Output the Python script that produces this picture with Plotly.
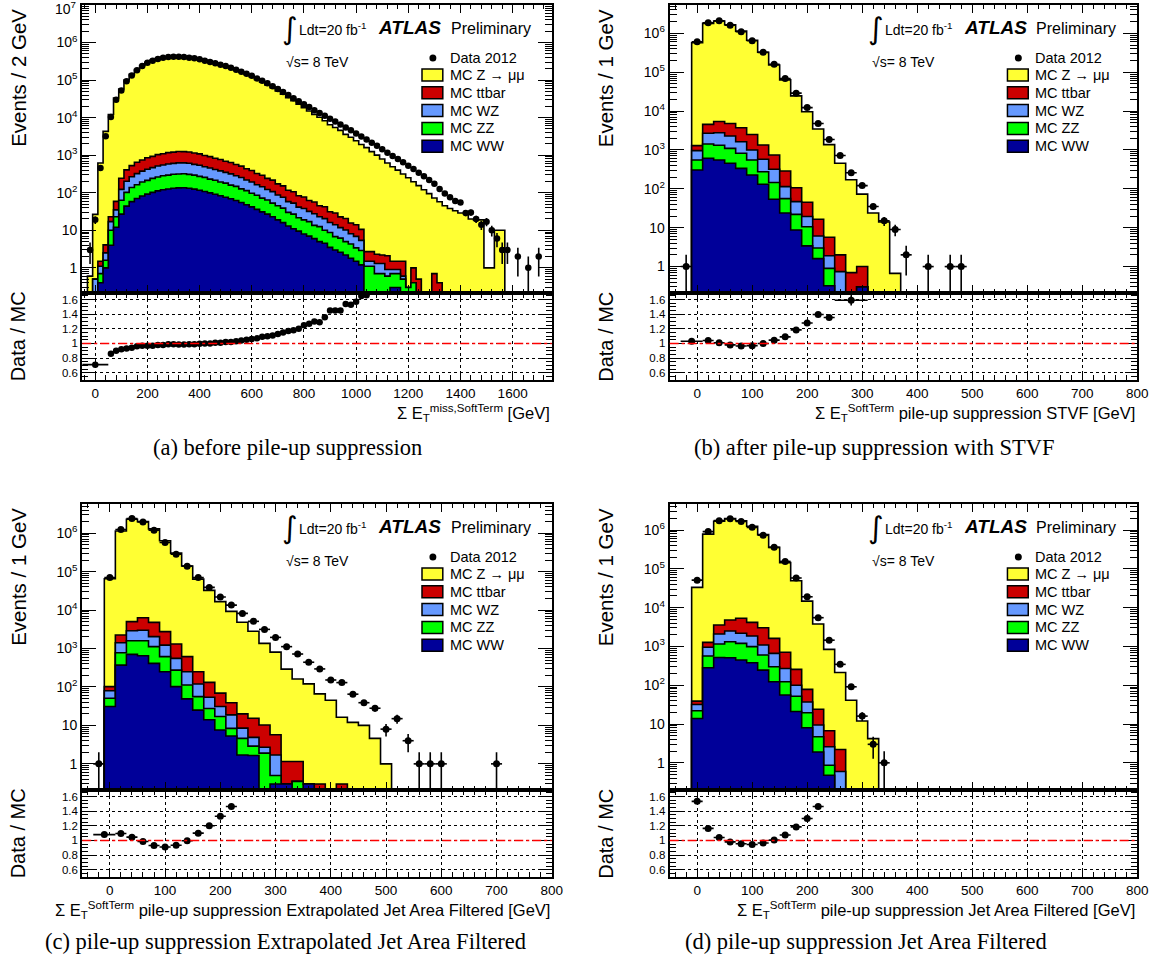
import numpy as np
import plotly.graph_objects as go

W, H = 1171, 962
BIN = 20.0
SANS = "Liberation Sans, Arial, Helvetica, sans-serif"
SERIF = "Liberation Serif, Times New Roman, serif"

COL_Z = "#ffff33"
COL_TT = "#cc0000"
COL_WZ = "#6699ff"
COL_ZZ = "#00ff00"
COL_WW = "#000099"

# ---------------- (a) before pile-up suppression ----------------
a_data_first = -20
a_data = [3, 19, 455, 3200, 10400, 30000, 53000, 93000, 133000, 183000,
          237000, 290000, 330000, 365000, 395000, 410000, 420000, 420000, 410000, 395000,
          380000, 360000, 330000, 305000, 280000, 255000, 237000, 213000, 190000, 168000,
          148000, 130000, 111000, 96000, 82000, 69000, 57500, 47900, 39800, 33100,
          27500, 22900, 19100, 15800, 13200, 11200, 9300, 7900, 6600, 5500,
          4600, 3800, 3160, 2630, 2140, 1780, 1450, 1170, 955, 795,
          645, 525, 427, 339, 275, 219, 174, 126, 95, 76,
          60, 55, 29, 30, 20, 14, 17, 10, 6, 3,
          3, 0, 2, 0, 1, 0, 2]
a_z_first = -20
a_z = [0.6, 26, 620, 4300, 12100, 33300, 57600, 100000, 141500, 190600,
       244000, 299000, 340000, 372000, 403000, 414000, 424000, 426000, 416000, 399000,
       384000, 362000, 330000, 305000, 277000, 252000, 232000, 209000, 184000, 162000,
       141000, 123000, 104000, 88000, 74500, 62200, 50900, 41700, 34000, 28000,
       22900, 18300, 15000, 12150, 10230, 8240, 6410, 5450, 4550, 3570,
       3000, 2420, 1915, 1585, 1240, 1000, 790, 615, 490, 400,
       315, 250, 195, 154, 120, 95, 72, 57, 45, 38,
       33, 29, 29, 20, 19, 19, 1, 1, 10, 10]
a_bkg_first = 0
a_ww = [0, 0.4, 1.0, 4, 12, 27, 44, 58, 70, 82,
        92, 102, 112, 120, 126, 132, 135, 136, 132, 125,
        117, 108, 99, 91, 83, 76, 69, 62, 55, 48,
        42, 36, 31, 27, 23, 19, 16, 13, 11, 9.5,
        8, 7, 6, 5, 4.5, 3.5, 3, 2.6, 2.2, 1.8,
        1.5, 1.2, 0, 0, 0, 0, 0, 0.3, 0.3, 0,
        0, 0, 0, 0, 0, 0, 0, 0]
a_zz = [0, 0.3, 0.6, 6, 11, 36, 58, 80, 93, 112,
        122, 140, 150, 164, 168, 180, 180, 186, 176, 170,
        156, 148, 132, 125, 110, 104, 91, 86, 72, 66,
        55, 50, 41, 37, 30, 26, 23, 17, 16, 12,
        11, 10, 7.5, 7.5, 5.5, 5.2, 3.8, 3.6, 2.8, 2.5,
        1.9, 1.7, 1.1, 1.1, 0.7, 0.7, 0.6, 0.4, 0.4, 0.5,
        0.3, 0.4, 0.2, 0, 0, 0, 0, 0]
a_wz = [0.5, 0.4, 0.9, 7, 12, 60, 100, 128, 160, 182,
        210, 226, 255, 266, 288, 292, 308, 302, 300, 276,
        266, 238, 226, 200, 190, 168, 158, 136, 127, 105,
        97, 78, 72, 58, 54, 42, 37, 28, 26, 20,
        19, 15, 14, 10.5, 10.5, 7.5, 7.2, 5.6, 5.2, 3.8,
        3.5, 2.5, 0.4, 0.4, 0.6, 0.6, 0.3, 0.2, 0.2, 0.1,
        0, 0, 0, 0, 0, 0, 0, 0]
a_tt = [0, 0.4, 1.6, 6, 24, 120, 205, 262, 328, 370,
        430, 462, 520, 545, 588, 600, 628, 620, 612, 568,
        545, 490, 460, 412, 388, 343, 322, 280, 258, 215,
        198, 160, 148, 120, 110, 85, 76, 58, 53, 42,
        39, 30, 29, 22, 22, 15, 15, 11, 10.5, 7.5,
        7.2, 5.2, 1.2, 1.2, 1.0, 0.9, 1.2, 0.6, 0.6, 0.9,
        0, 0.6, 0.3, 0, 0, 0.7, 0.4, 0]
a_ratio_x = [0] + list(range(60, 1041, 20))
a_ratio_xerr = [50] + [10] * 50
a_ratio = [0.71, 0.86, 0.90, 0.92, 0.93, 0.94, 0.96, 0.97, 0.97, 0.97,
           0.98, 0.98, 0.99, 0.99, 0.985, 0.985, 0.99, 0.99, 0.995, 1.0,
           1.0, 1.01, 1.01, 1.02, 1.02, 1.03, 1.04, 1.05, 1.06, 1.07,
           1.09, 1.10, 1.11, 1.13, 1.15, 1.17, 1.18, 1.20, 1.25, 1.27,
           1.30, 1.29, 1.36, 1.45, 1.45, 1.45, 1.54, 1.53, 1.57, 1.65, 1.66]
a_ratio_err = [0.01] + [0.002] * 40 + [0.004, 0.005, 0.006, 0.007, 0.008, 0.009, 0.01, 0.012, 0.014, 0.016]

# ---------------- (b) STVF ----------------
b_data_first = -20
b_data = [1, 610000, 1870000, 2100000, 1630000, 1100000, 645000, 325000, 160000, 69000,
          29000, 12300, 4800, 1860, 720, 260, 121, 35, 15, 9,
          2, 0, 1, 0, 1, 1]
b_z_first = 0
b_z = [575000, 1800000, 2080000, 1660000, 1140000, 665000, 325000, 153000, 63300, 24500,
       9600, 3440, 1370, 455, 170, 72, 24, 14, 0.67]
b_bkg_first = 0
b_ww = [305, 610, 550, 455, 336, 228, 131, 54, 24, 8.7, 3.4, 1.6, 0.32, 0, 0, 0.3]
b_zz = [245, 810, 770, 645, 484, 322, 145, 91, 32, 13.3, 7.2, 1.4, 0.58, 0, 0, 0]
b_wz = [410, 1280, 1460, 1190, 810, 450, 299, 173, 58, 25, 8.8, 3.1, 1.0, 0.74, 0, 0]
b_tt = [330, 1860, 2620, 2510, 2110, 1510, 765, 422, 174, 60, 25.6, 10.4, 3.8, 1.26, 0.7, 0.7]
b_ratio_x = [-10, 20, 40, 60, 80, 100, 120, 140, 160, 180, 200, 220, 240, 280]
b_ratio_xerr = [20] + [10] * 12 + [30]
b_ratio = [1.03, 1.04, 1.01, 0.98, 0.965, 0.97, 1.0, 1.045, 1.09, 1.185, 1.28, 1.395, 1.355, 1.59]
b_ratio_err = [0.004, 0.002, 0.002, 0.002, 0.002, 0.002, 0.003, 0.004, 0.006, 0.008, 0.012, 0.02, 0.03, 0.07]

# ---------------- (c) Extrapolated Jet Area Filtered ----------------
c_data_first = -20
c_data = [1, 70000, 1250000, 2400000, 1960000, 1200000, 575000, 283000, 139000, 70000,
          39000, 22000, 13500, 8200, 5100, 3150, 1950, 1120, 720, 440,
          295, 152, 130, 65, 39, 28, 8, 15, 4, 1,
          1, 1, 0, 0, 0, 0, 1]
c_z_first = 0
c_z = [65000, 1140000, 2300000, 1990000, 1290000, 632000, 303000, 140000, 63600, 32500,
       16500, 9200, 4800, 2800, 1350, 800, 290, 160, 120, 66,
       45, 16, 12, 10, 4.6, 1.0]
c_bkg_first = 0
c_ww = [31, 370, 705, 650, 410, 250, 102, 49, 25, 14, 7.6, 5.3, 1.7, 1.65, 0, 0.3, 0.3, 0, 0.3, 0, 0, 0]
c_zz = [20, 410, 885, 940, 710, 365, 173, 64, 31, 13.5, 9.4, 3.1, 2.9, 1.25, 1.9, 0.2, 0, 0.35, 0, 0, 0, 0]
c_wz = [29, 640, 1310, 1410, 920, 615, 280, 137, 64, 26.5, 14, 10.4, 3.9, 2.0, 0.8, 1.2, 0, 0, 0, 0, 0, 0]
c_tt = [22, 820, 2100, 3300, 2760, 1520, 755, 365, 130, 78, 38, 20.2, 11.5, 10.5, 7.6, 4.0, 0.85, 0.8, 0, 0.3, 0, 0.3]
c_ratio_x = [-10, 20, 40, 60, 80, 100, 120, 140, 160, 180, 200, 220]
c_ratio_xerr = [20] + [10] * 11
c_ratio = [1.08, 1.095, 1.045, 0.985, 0.93, 0.91, 0.935, 0.995, 1.10, 1.20, 1.33, 1.465]
c_ratio_err = [0.004, 0.002, 0.002, 0.002, 0.002, 0.002, 0.003, 0.004, 0.006, 0.008, 0.01, 0.014]

# ---------------- (d) Jet Area Filtered ----------------
d_data_first = 0
d_data = [51000, 910000, 1740000, 1940000, 1650000, 1170000, 730000, 357000, 155000, 58000,
          19000, 5500, 1450, 345, 91, 16, 3, 1]
d_z_first = 0
d_z = [33200, 781000, 1670000, 1980000, 1730000, 1240000, 756000, 355000, 144000, 49000,
       14600, 3750, 830, 210, 41, 12, 4.2]
d_bkg_first = 0
d_ww = [13.9, 282, 520, 510, 445, 380, 245, 123, 56, 21, 8, 1.9, 0.48, 0]
d_zz = [8.1, 283, 630, 810, 755, 605, 355, 177, 67, 31, 11.5, 2.8, 0.39, 0]
d_wz = [10, 385, 940, 1180, 980, 865, 490, 360, 147, 48, 17.5, 4.7, 1.73, 0.6]
d_tt = [7, 320, 1470, 2300, 3120, 2320, 1940, 950, 435, 156, 41, 14.6, 4.1, 1.6]
d_ratio_x = [0, 20, 40, 60, 80, 100, 120, 140, 160, 180, 200, 220]
d_ratio_xerr = [10] * 12
d_ratio = [1.535, 1.165, 1.04, 0.98, 0.955, 0.945, 0.965, 1.005, 1.075, 1.185, 1.30, 1.465]
d_ratio_err = [0.01, 0.003, 0.002, 0.002, 0.002, 0.002, 0.003, 0.004, 0.006, 0.008, 0.012, 0.018]

legend_labels = ["MC Z \u2192 \u03bc\u03bc", "MC ttbar", "MC WZ", "MC ZZ", "MC WW"]
legend_colors = [COL_Z, COL_TT, COL_WZ, COL_ZZ, COL_WW]

panels = [
    dict(L=83, R=557, T=5, B=293, RB=380,
         data=(a_data_first, a_data), z=(a_z_first, a_z), bkg_first=a_bkg_first,
         ww=a_ww, zz=a_zz, wz=a_wz, tt=a_tt,
         rx=a_ratio_x, rxe=a_ratio_xerr, r=a_ratio, re=a_ratio_err,
         xr=[-50, 1750], yr=[-0.67, 7.0], major=200, minor=40, msize=6.5,
         ytitle="Events / 2 GeV",
         xtitle="\u03a3 E<sub>T</sub><sup>miss,SoftTerm</sup> [GeV]",
         caption="(a) before pile-up suppression", cap_x=290, cap_y=447),
    dict(L=676, R=1148, T=5, B=293, RB=380,
         data=(b_data_first, b_data), z=(b_z_first, b_z), bkg_first=b_bkg_first,
         ww=b_ww, zz=b_zz, wz=b_wz, tt=b_tt,
         rx=b_ratio_x, rxe=b_ratio_xerr, r=b_ratio, re=b_ratio_err,
         xr=[-50, 800], yr=[-0.68, 6.73], major=100, minor=20, msize=7,
         ytitle="Events / 1 GeV",
         xtitle="\u03a3 E<sub>T</sub><sup>SoftTerm</sup> pile-up suppression STVF [GeV]",
         caption="(b) after pile-up suppression with STVF", cap_x=883, cap_y=447),
    dict(L=83, R=557, T=504, B=790, RB=877,
         data=(c_data_first, c_data), z=(c_z_first, c_z), bkg_first=c_bkg_first,
         ww=c_ww, zz=c_zz, wz=c_wz, tt=c_tt,
         rx=c_ratio_x, rxe=c_ratio_xerr, r=c_ratio, re=c_ratio_err,
         xr=[-50, 800], yr=[-0.68, 6.76], major=100, minor=20, msize=7,
         ytitle="Events / 1 GeV",
         xtitle="\u03a3 E<sub>T</sub><sup>SoftTerm</sup> pile-up suppression Extrapolated Jet Area Filtered [GeV]",
         caption="(c) pile-up suppression Extrapolated Jet Area Filtered", cap_x=288, cap_y=941),
    dict(L=676, R=1148, T=504, B=790, RB=877,
         data=(d_data_first, d_data), z=(d_z_first, d_z), bkg_first=d_bkg_first,
         ww=d_ww, zz=d_zz, wz=d_wz, tt=d_tt,
         rx=d_ratio_x, rxe=d_ratio_xerr, r=d_ratio, re=d_ratio_err,
         xr=[-50, 800], yr=[-0.70, 6.67], major=100, minor=20, msize=7,
         ytitle="Events / 1 GeV",
         xtitle="\u03a3 E<sub>T</sub><sup>SoftTerm</sup> pile-up suppression Jet Area Filtered [GeV]",
         caption="(d) pile-up suppression Jet Area Filtered", cap_x=874, cap_y=941),
]


def on_grid(first, vals, g0, n):
    out = np.zeros(n)
    i = int(round((first - g0) / BIN))
    out[i:i + len(vals)] = vals
    return out


def step_line(g0, vals, floor=1e-3):
    v = np.asarray(vals, dtype=float)
    v = np.where(v > 0, v, floor)
    edges = g0 - BIN / 2 + BIN * np.arange(len(v) + 1)
    xs = np.concatenate([[edges[0]], edges[:-1], [edges[-1], edges[-1]]])
    ys = np.concatenate([[floor], v, [v[-1], floor]])
    return xs, ys


def axname(kind, num):
    return f"{kind}axis" if num == 1 else f"{kind}axis{num}"


def axref(kind, num):
    return kind if num == 1 else f"{kind}{num}"


def P(x, y):
    return x / W, 1 - y / H


def text(x, y, s, size, xanchor="left", yanchor="middle", family=SANS, angle=0):
    px, py = P(x, y)
    return dict(x=px, y=py, xref="paper", yref="paper", text=s, showarrow=False,
                xanchor=xanchor, yanchor=yanchor, textangle=angle,
                font=dict(family=family, size=size, color="black"))


fig = go.Figure()
layout = dict(width=W, height=H, margin=dict(l=0, r=0, t=0, b=0),
              paper_bgcolor="white", plot_bgcolor="white", showlegend=False,
              font=dict(family=SANS, size=14, color="black"))
annotations, shapes = [], []

log_minor = [m * 10.0 ** k for k in range(-1, 8) for m in range(2, 10)]

frame = dict(showline=True, linecolor="black", linewidth=2, mirror="allticks",
             ticks="inside", tickcolor="black", tickwidth=1, showgrid=False,
             zeroline=False)

for p, pn in enumerate(panels):
    nm, nr = 2 * p + 1, 2 * p + 2
    xm, ym, xr_, yr_ = axref("x", nm), axref("y", nm), axref("x", nr), axref("y", nr)
    L, R, T, B, RB = pn["L"], pn["R"], pn["T"], pn["B"], pn["RB"]

    # stacked MC histograms on a common 20 GeV grid
    z_first, z_vals = pn["z"]
    g0 = min(z_first, pn["bkg_first"])
    n = int(round((z_first + BIN * len(z_vals) - g0) / BIN))
    n = max(n, int(round((pn["bkg_first"] + BIN * len(pn["ww"]) - g0) / BIN)))
    ww = on_grid(pn["bkg_first"], pn["ww"], g0, n)
    zz = on_grid(pn["bkg_first"], pn["zz"], g0, n)
    wz = on_grid(pn["bkg_first"], pn["wz"], g0, n)
    tt = on_grid(pn["bkg_first"], pn["tt"], g0, n)
    zmm = on_grid(z_first, z_vals, g0, n)
    levels = [(zmm + tt + wz + zz + ww, COL_Z), (tt + wz + zz + ww, COL_TT),
              (wz + zz + ww, COL_WZ), (zz + ww, COL_ZZ), (ww, COL_WW)]
    for vals, col in levels:
        xs, ys = step_line(g0, vals)
        fig.add_trace(go.Scatter(x=xs, y=ys, mode="lines", line=dict(color="black", width=1.6, shape="hv"),
                                 fill="tozeroy", fillcolor=col, xaxis=xm, yaxis=ym, hoverinfo="skip"))

    # data points
    d_first, d_vals = pn["data"]
    dv = np.asarray(d_vals, dtype=float)
    dx = d_first + BIN * np.arange(len(dv))
    keep = dv > 0
    err = np.sqrt(dv[keep])
    fig.add_trace(go.Scatter(x=dx[keep], y=dv[keep], mode="markers",
                             marker=dict(color="black", size=pn["msize"]),
                             error_x=dict(type="constant", value=BIN / 2, width=0, thickness=1.6, color="black"),
                             error_y=dict(type="data", array=err, arrayminus=err, width=0, thickness=1.6, color="black"),
                             xaxis=xm, yaxis=ym, hoverinfo="skip"))

    # ratio points
    fig.add_trace(go.Scatter(x=pn["rx"], y=pn["r"], mode="markers",
                             marker=dict(color="black", size=pn["msize"]),
                             error_x=dict(type="data", array=pn["rxe"], width=0, thickness=1.6, color="black"),
                             error_y=dict(type="data", array=pn["re"], width=0, thickness=1.6, color="black"),
                             xaxis=xr_, yaxis=yr_, hoverinfo="skip"))

    # decade labels; the one sitting on the top frame edge is written as text below
    top_dec = int(np.floor(pn["yr"][1] + 1e-9))
    inner = [k for k in range(0, top_dec + 1) if k < pn["yr"][1] - 0.05]
    dec_vals = [10.0 ** k for k in inner]
    dec_text = ["1" if k == 0 else "10" if k == 1 else f"10<sup>{k}</sup>" for k in inner]

    xdom = [L / W, R / W]
    major_vals = list(range(0, int(pn["xr"][1]) + 1, pn["major"]))
    layout[axname("x", nm)] = dict(frame, domain=xdom, anchor=ym, range=pn["xr"],
                                   tickvals=major_vals, showticklabels=False, ticklen=8,
                                   minor=dict(dtick=pn["minor"], tick0=0, ticks="inside", ticklen=4, tickcolor="black"))
    layout[axname("y", nm)] = dict(frame, domain=[1 - B / H, 1 - T / H], anchor=xm, type="log",
                                   range=pn["yr"], tickvals=dec_vals, ticktext=dec_text, ticklen=14,
                                   tickfont=dict(size=14),
                                   minor=dict(tickvals=log_minor, ticks="inside", ticklen=7, tickcolor="black"))
    layout[axname("x", nr)] = dict(frame, domain=xdom, anchor=yr_, range=pn["xr"],
                                   tickvals=major_vals, ticktext=[str(v) for v in major_vals], ticklen=9,
                                   tickfont=dict(size=13.5),
                                   showgrid=True, gridcolor="black", griddash="dot", gridwidth=1,
                                   minor=dict(dtick=pn["minor"], tick0=0, ticks="inside", ticklen=5, tickcolor="black"))
    layout[axname("y", nr)] = dict(frame, domain=[1 - RB / H, 1 - B / H], anchor=xr_, range=[0.5, 1.69],
                                   tickvals=[0.6, 0.8, 1.0, 1.2, 1.4, 1.6],
                                   ticktext=["0.6", "0.8", "1", "1.2", "1.4", "1.6"], ticklen=12,
                                   tickfont=dict(size=11.5),
                                   showgrid=True, gridcolor="black", griddash="dot", gridwidth=1,
                                   minor=dict(dtick=0.05, tick0=0.5, ticks="inside", ticklen=6, tickcolor="black"))

    if top_dec not in inner and abs(pn["yr"][1] - top_dec) < 0.05:
        annotations.append(text(L - 4, T + 3, f"10<sup>{top_dec}</sup>", 14, xanchor="right"))

    # unity line in the ratio pad
    shapes.append(dict(type="line", xref=f"{xr_} domain", yref=yr_, x0=0, x1=1, y0=1, y1=1,
                       line=dict(color="#ff0000", width=1.6, dash="dashdot")))

    # axis titles
    annotations.append(text(L - 65, T + 73, pn["ytitle"], 20.5, xanchor="center", angle=-90))
    annotations.append(text(L - 65, (B + RB) / 2, "Data / MC", 20, xanchor="center", angle=-90))
    annotations.append(text(R, RB + 33, pn["xtitle"], 16.5, xanchor="right"))
    annotations.append(text(pn["cap_x"], pn["cap_y"], pn["caption"], 22.5, xanchor="center", family=SERIF))

    # luminosity / experiment labels
    annotations.append(text(R - 264, T + 23, "\u222b", 30, xanchor="center", family="DejaVu Sans"))
    annotations.append(text(R - 257, T + 24, "Ldt=20 fb<sup>-1</sup>", 14))
    annotations.append(text(R - 177, T + 22, "<b><i>ATLAS</i></b>", 19))
    annotations.append(text(R - 104, T + 23, "Preliminary", 16))
    annotations.append(text(R - 270, T + 57, "\u221as= 8 TeV", 14))

    # legend
    cx, cy = R - 120, T + 53
    shapes.append(dict(type="circle", xref="paper", yref="paper",
                       x0=(cx - 3.5) / W, x1=(cx + 3.5) / W, y0=1 - (cy + 3.5) / H, y1=1 - (cy - 3.5) / H,
                       fillcolor="black", line=dict(color="black", width=0)))
    annotations.append(text(R - 105, T + 53, "Data 2012", 14.5))
    for k, (lab, col) in enumerate(zip(legend_labels, legend_colors)):
        yc = T + 70 + 17.8 * k
        shapes.append(dict(type="rect", xref="paper", yref="paper",
                           x0=(R - 131) / W, x1=(R - 110) / W, y0=1 - (yc + 6) / H, y1=1 - (yc - 6) / H,
                           fillcolor=col, line=dict(color="black", width=1.5)))
        annotations.append(text(R - 105, yc, lab, 14.5))

layout["annotations"] = annotations
layout["shapes"] = shapes
fig.update_layout(**layout)
fig.write_html("out.html")
